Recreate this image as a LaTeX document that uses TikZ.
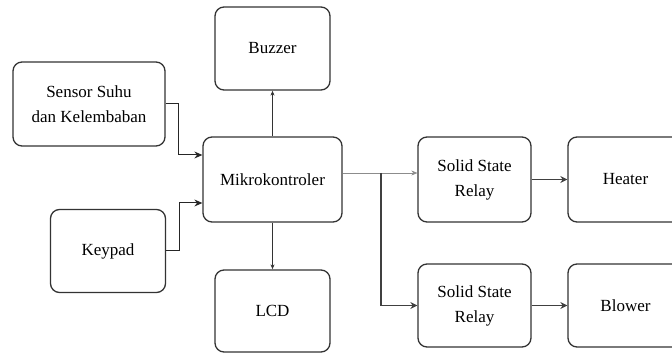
\documentclass[tikz,border=0pt]{standalone}
\usepackage{fontspec}
\setmainfont{Liberation Serif}
\usetikzlibrary{arrows.meta}
\tikzset{
blok/.style={
	  draw=black!80, line width=1.3pt, rounded corners=9pt,
	    align=center, inner sep=0pt,
    font=\fontsize{17}{25}\selectfont},
panah/.style={-{Stealth[length=8pt,width=7pt]}, line width=1pt, draw=black!85},
panahkecil/.style={-{Stealth[length=5pt,width=4pt]}, line width=1.2pt, draw=black!80},
panahtebal/.style={-{Stealth[length=7pt,width=7pt]}, line width=1.9pt, draw=black!75},
garistipis/.style={-{Stealth[length=6pt,width=5pt]}, line width=0.5pt, draw=black!45}
}

\begin{document}
\begin{tikzpicture}[x=1pt, y=-1pt]
	\clip (0,0) rectangle (672,355);
	\node[blok, minimum width=115pt, minimum height=83pt] (buzzer) at (272.5,48.5) {Buzzer};
	\node[blok, minimum width=152pt, minimum height=84pt] (sensor) at (89,104) {Sensor Suhu\\dan Kelembaban};
	\node[blok, minimum width=139pt, minimum height=85pt] (mikro) at (272.5,179.5) {Mikrokontroler};
	\node[blok, minimum width=115pt, minimum height=83pt] (keypad) at (108,251) {Keypad};
	\node[blok, minimum width=115pt, minimum height=82pt] (lcd) at (272.5,311) {LCD};
	\node[blok, minimum width=113pt, minimum height=85pt] (ssr1) at (474.5,179.5) {Solid State\\Relay};
	\node[blok, minimum width=115pt, minimum height=85pt] (heater) at (625.5,179.5) {Heater};
	\node[blok, minimum width=113pt, minimum height=83pt] (ssr2) at (474.5,305.5) {Solid State\\Relay};
	\node[blok, minimum width=115pt, minimum height=83pt] (blower) at (625.5,305.5) {Blower};

	% masukan ke mikrokontroler
	\draw[panah] (sensor.east) -- ++(13,0) |- ([yshift=24.5pt]mikro.west);
	\draw[panah] (keypad.east) -- ++(13,0) |- ([yshift=-23.5pt]mikro.west);
	\draw[panahkecil] (mikro.north) -- (buzzer.south);
	\draw[panahkecil] (mikro.south) -- (lcd.north);

	% keluaran ke relay
	\coordinate (cabang) at ([xshift=38pt,yshift=6.5pt]mikro.east);
	\draw[garistipis] ([yshift=6.5pt]mikro.east) -- ([yshift=6.5pt]ssr1.west);
	\draw[panahtebal] (cabang) |- (ssr2.west);
	\draw[panahtebal] (ssr1.east) -- (heater.west);
	\draw[panahtebal] (ssr2.east) -- (blower.west);
\end{tikzpicture}
\end{document}
